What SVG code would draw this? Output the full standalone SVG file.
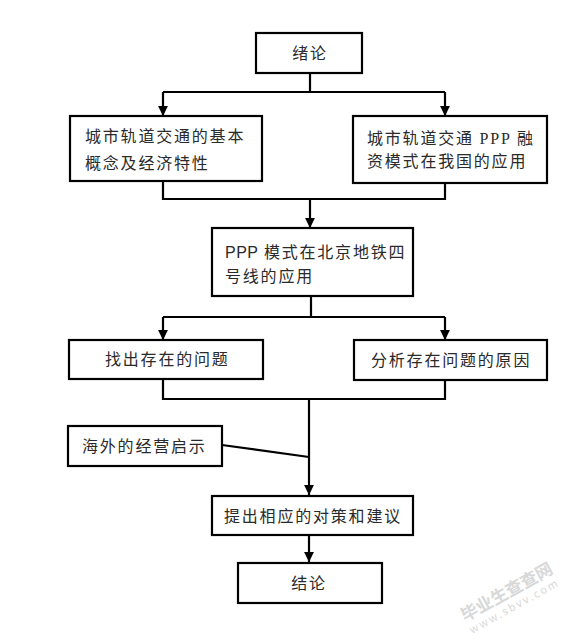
<svg xmlns="http://www.w3.org/2000/svg" width="585" height="639" viewBox="0 0 585 639">
<defs>
<style>
.box{fill:#fff;stroke:#000;stroke-width:2.2}
.t{font-family:"Noto Sans CJK SC","Noto Sans",sans-serif;font-size:16px;letter-spacing:1.8px;fill:#2a2a2a}
.ser{font-family:"Liberation Serif","Noto Sans CJK SC",serif}
.san{font-family:"Liberation Sans","Noto Sans CJK SC",sans-serif}
.c{fill:none;stroke:#000;stroke-width:2.2}
.wm{font-family:"Noto Sans CJK SC",sans-serif;fill:#d8d8d8}
</style>
<marker id="ah" viewBox="0 0 10 10" refX="10" refY="5" markerWidth="4.5" markerHeight="4.5" markerUnits="strokeWidth" orient="auto">
<path d="M0,0 L10,5 L0,10 Z" fill="#000"/>
</marker>
</defs>
<rect width="585" height="639" fill="#fff"/>
<g id="connectors">
<path class="c" d="M310,73 V92 M163,92 H445"/>
<path class="c" d="M163,92 V116" marker-end="url(#ah)"/>
<path class="c" d="M445,92 V116" marker-end="url(#ah)"/>
<path class="c" d="M163,181 V199 H445 V183"/>
<path class="c" d="M310,199 V228" marker-end="url(#ah)"/>
<path class="c" d="M311,296 V317 M163,317 H445"/>
<path class="c" d="M163,317 V340" marker-end="url(#ah)"/>
<path class="c" d="M445,317 V340" marker-end="url(#ah)"/>
<path class="c" d="M163,379 V399 H445 V380"/>
<path class="c" d="M309,399 V495" marker-end="url(#ah)"/>
<path class="c" d="M222,445 L309,457"/>
<path class="c" d="M309,535 V562" marker-end="url(#ah)"/>
</g>
<g id="n1"><rect class="box" x="256" y="33" width="106" height="40"/><text class="t" x="310" y="59" text-anchor="middle">绪论</text></g>
<g id="n2"><rect class="box" x="70" y="116" width="192" height="65"/><text class="t" x="85" y="142">城市轨道交通的基本</text><text class="t" x="85" y="169">概念及经济特性</text></g>
<g id="n3"><rect class="box" x="353" y="116" width="194" height="67"/><text class="t" x="367" y="144">城市轨道交通<tspan class="ser"> PPP </tspan>融</text><text class="t" x="367" y="167">资模式在我国的应用</text></g>
<g id="n4"><rect class="box" x="212" y="228" width="201" height="68"/><text class="t" x="225" y="258"><tspan class="san" letter-spacing="0.5">PPP</tspan> 模式在北京地铁四</text><text class="t" x="225" y="282">号线的应用</text></g>
<g id="n5"><rect class="box" x="69" y="340" width="194" height="39"/><text class="t" x="105" y="365">找出存在的问题</text></g>
<g id="n6"><rect class="box" x="354" y="340" width="193" height="40"/><text class="t" x="371" y="366">分析存在问题的原因</text></g>
<g id="n7"><rect class="box" x="68" y="426" width="154" height="40"/><text class="t" x="82" y="452">海外的经营启示</text></g>
<g id="n8"><rect class="box" x="212" y="496" width="201" height="39"/><text class="t" x="224" y="522">提出相应的对策和建议</text></g>
<g id="n9"><rect class="box" x="238" y="563" width="144" height="40"/><text class="t" x="309" y="589" text-anchor="middle">结论</text></g>
<g id="watermark">
<text class="wm" font-size="17" font-weight="bold" transform="translate(465,622) rotate(-29)">毕业生查查网</text>
<text class="wm" font-size="11" letter-spacing="2" transform="translate(472,634) rotate(-29)">www.sbvv.com</text>
</g>
</svg>
